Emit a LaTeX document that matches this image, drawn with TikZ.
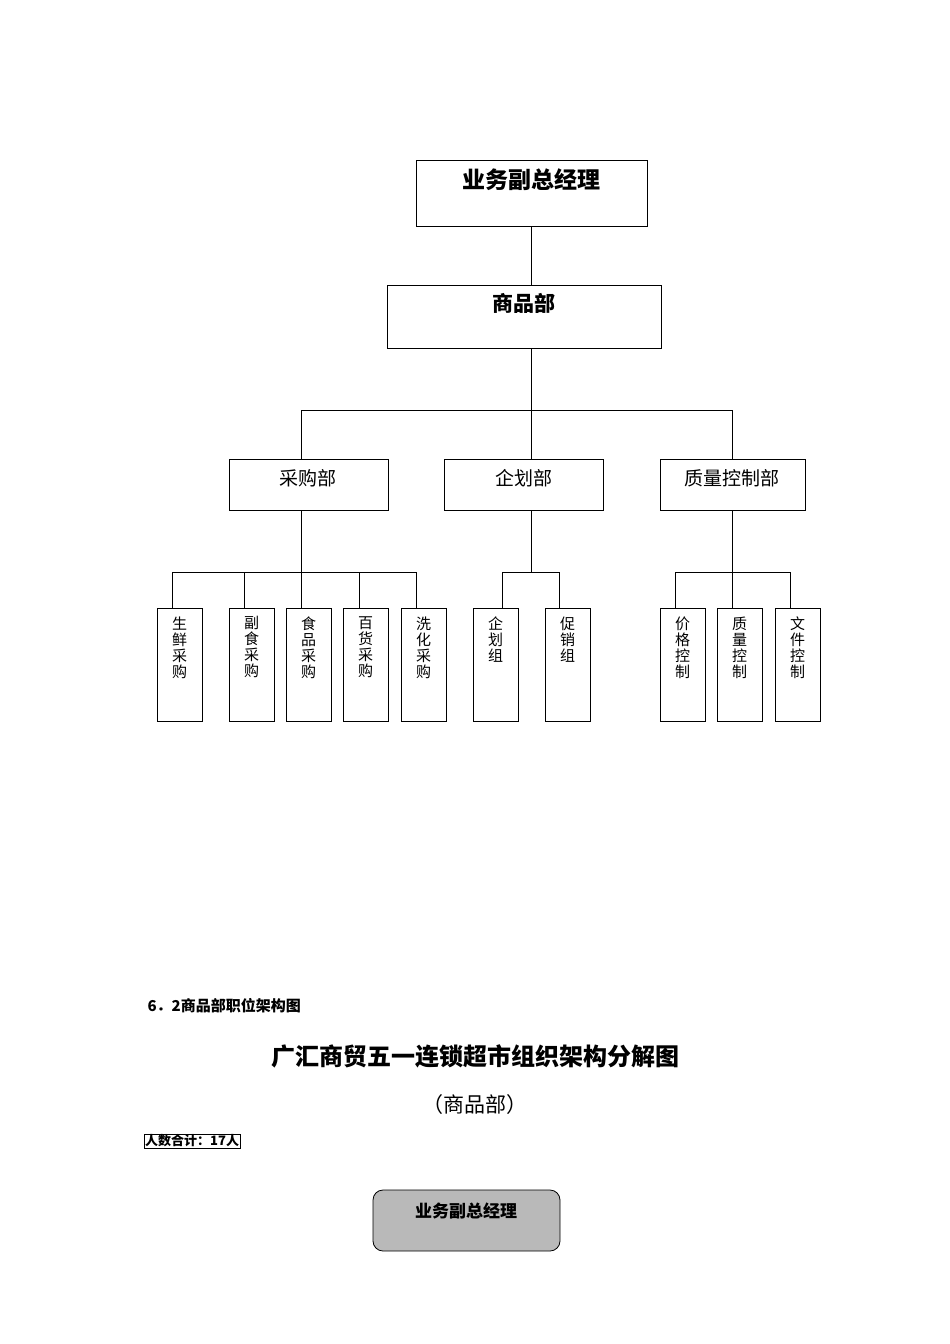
\documentclass[tikz,border=0pt]{standalone}
\usepackage{fontspec}
\setmainfont{Liberation Serif}
\newfontfamily\cjk{Noto Sans CJK SC}
\begin{document}
\begin{tikzpicture}[x=1pt,y=-1pt,
  bx/.style={draw,thick,inner sep=0},
  small/.style={font=\cjk\fontsize{15}{16}\selectfont,align=center,anchor=north},
  ln/.style={thick}]
\useasboundingbox (0,0) rectangle (950,1344);
% top
\draw[bx] (416,160) rectangle (647,226);
\node[font=\cjk\bfseries\fontsize{23}{24}\selectfont] (t1) at (531,180) {业务副总经理};
\draw[bx] (387,285) rectangle (661,348);
\node[font=\cjk\bfseries\fontsize{21}{22}\selectfont] (t2) at (524,303) {商品部};
\draw[ln] (531,226) -- (531,285);
\draw[ln] (531,348) -- (531,410);
\draw[ln] (301,459) -- (301,410) -- (732,410) -- (732,459);
\draw[ln] (531,410) -- (531,459);
\foreach \a/\b/\t/\c in {229/388/采购部/308,444/603/企划部/524,660/805/质量控制部/732}{
  \draw[bx] (\a,459) rectangle (\b,510);
  \node[font=\cjk\fontsize{19}{20}\selectfont] at (\c,478) {\t};
}
\draw[ln] (301,510) -- (301,572);
\draw[ln] (531,510) -- (531,572);
\draw[ln] (732,510) -- (732,572);
\draw[ln] (172,608) -- (172,572) -- (416,572) -- (416,608);
\foreach \x in {244,301,359} \draw[ln] (\x,572) -- (\x,608);
\draw[ln] (502,608) -- (502,572) -- (559,572) -- (559,608);
\draw[ln] (675,608) -- (675,572) -- (790,572) -- (790,608);
\draw[ln] (732,572) -- (732,608);
\foreach \a/\t in {157/生\\鲜\\采\\购,229/副\\食\\采\\购,286/食\\品\\采\\购,343/百\\货\\采\\购,401/洗\\化\\采\\购,473/企\\划\\组,545/促\\销\\组,660/价\\格\\控\\制,717/质\\量\\控\\制,775/文\\件\\控\\制}{
  \draw[bx] (\a,608) rectangle ++(45,113);
  \node[small] at (\a+22.5,613) {\t};
}
% bottom
\node[anchor=west,font=\cjk\bfseries\fontsize{15}{16}\selectfont] (h) at (144,1006) {6．2商品部职位架构图};
\node[font=\cjk\bfseries\fontsize{24}{25}\selectfont] (title) at (475,1056) {广汇商贸五一连锁超市组织架构分解图};
\node[font=\cjk\fontsize{21}{22}\selectfont] (sub) at (475,1105) {（商品部）};
\node[draw,anchor=west,inner sep=1pt,font=\cjk\bfseries\fontsize{13}{14}\selectfont] (n) at (144,1141) {人数合计：17人};
\draw[thick,fill=gray!55,rounded corners=10pt] (373,1190) rectangle (560,1251);
\node[font=\cjk\bfseries\fontsize{17}{18}\selectfont] (b1) at (466,1211) {业务副总经理};
\end{tikzpicture}
\end{document}
